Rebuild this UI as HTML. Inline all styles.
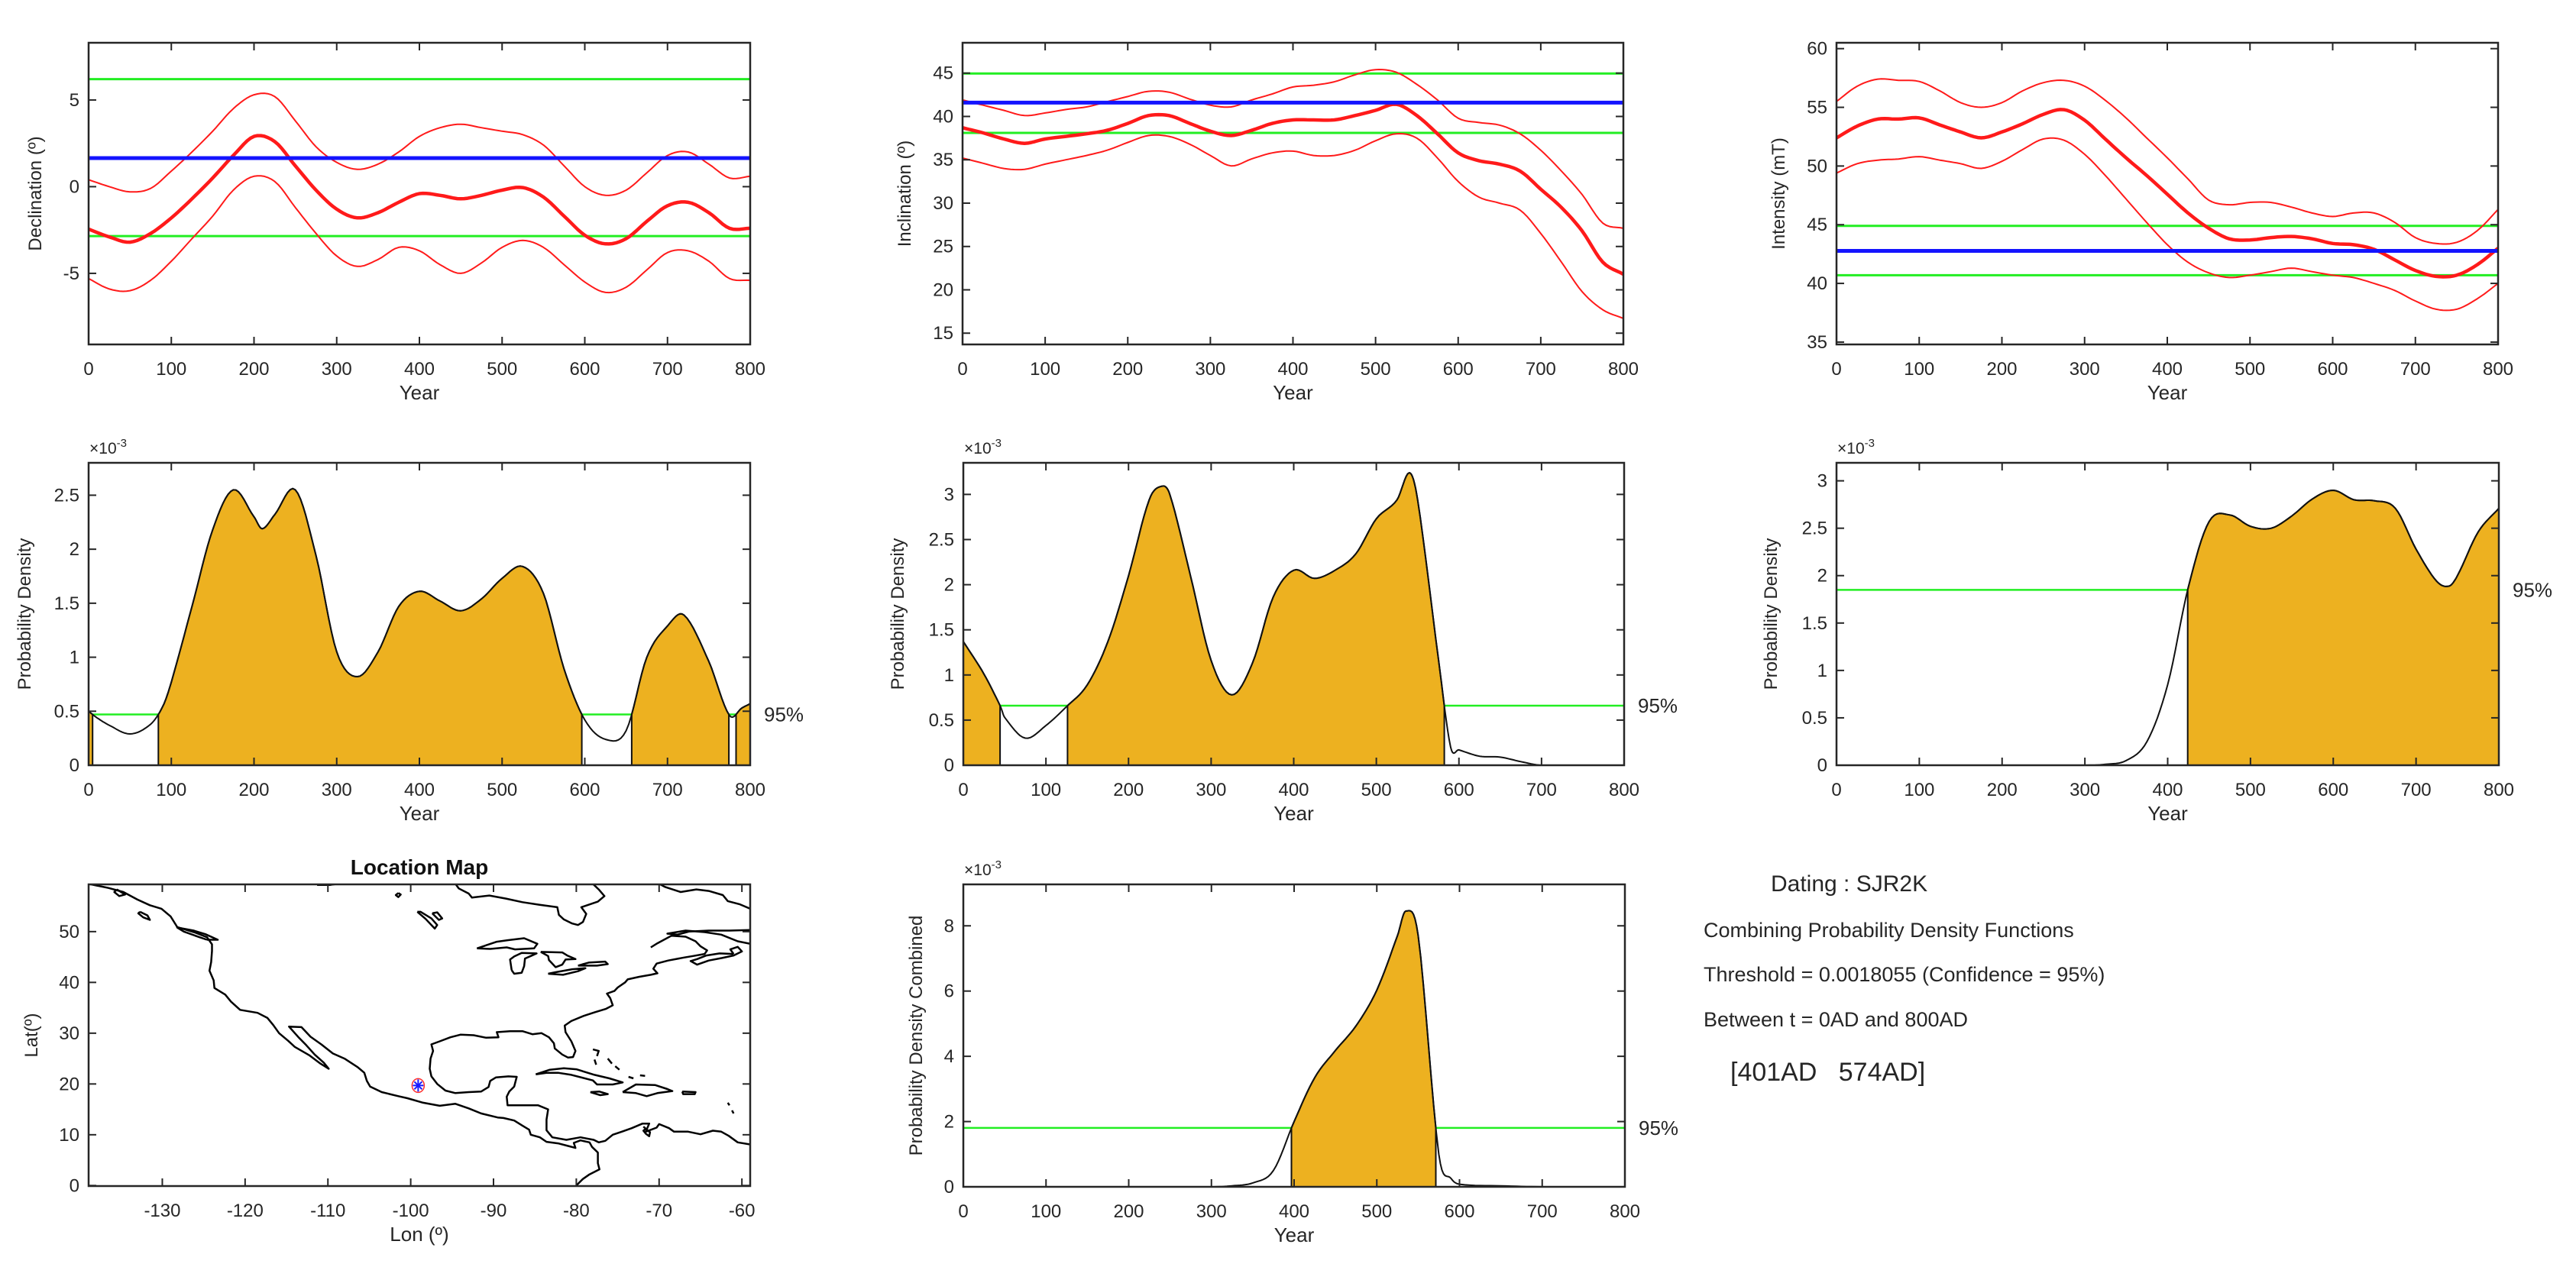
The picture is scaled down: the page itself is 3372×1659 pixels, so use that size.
<!DOCTYPE html>
<html><head><meta charset="utf-8"><style>
html,body{margin:0;padding:0;background:#fff;}
svg{display:block;font-family:"Liberation Sans",Arial,sans-serif;}
</style></head><body>
<svg id="fig" width="3372" height="1659" viewBox="0 0 3372 1659" xmlns="http://www.w3.org/2000/svg">
<rect width="3372" height="1659" fill="#fff"/>
<g id="root"></g>
<text x="2318" y="1167" font-size="30" fill="#262626">Dating : SJR2K</text>
<text x="2230" y="1227" font-size="27" fill="#262626">Combining Probability Density Functions</text>
<text x="2230" y="1285" font-size="27" fill="#262626">Threshold = 0.0018055 (Confidence = 95%)</text>
<text x="2230" y="1344" font-size="27" fill="#262626">Between t = 0AD and 800AD</text>
<text x="2265" y="1415" font-size="34" fill="#262626" xml:space="preserve">[401AD   574AD]</text>
</svg>
<script>
// ---------- data ----------
const years = [0,25,50,75,100,125,150,175,200,225,250,275,300,325,350,375,400,425,450,475,500,525,550,575,600,625,650,675,700,725,750,775,800];
const decMean = [-2.45,-2.9,-3.2,-2.7,-1.8,-0.7,0.5,1.8,2.9,2.6,1.2,-0.2,-1.3,-1.8,-1.5,-0.9,-0.4,-0.5,-0.7,-0.5,-0.2,-0.05,-0.6,-1.7,-2.8,-3.3,-3.0,-2.0,-1.1,-0.9,-1.5,-2.4,-2.4];
const decUpper = [0.4,0.0,-0.3,-0.1,0.9,2.0,3.2,4.5,5.3,5.2,3.8,2.3,1.4,1.0,1.3,2.0,2.9,3.4,3.6,3.4,3.2,3.0,2.4,1.2,0.0,-0.5,-0.2,0.8,1.8,2.0,1.3,0.5,0.6];
const decLower = [-5.3,-5.9,-6.0,-5.4,-4.3,-3.0,-1.7,-0.2,0.6,0.3,-1.2,-2.7,-4.0,-4.6,-4.2,-3.5,-3.7,-4.5,-5.0,-4.4,-3.5,-3.1,-3.5,-4.5,-5.5,-6.1,-5.8,-4.8,-3.8,-3.7,-4.3,-5.3,-5.4];
const decRef = [1.65]; const decBand = [6.2,-2.85];
const incMean = [38.7,38.1,37.4,36.9,37.4,37.7,38.0,38.4,39.2,40.1,40.1,39.2,38.3,37.8,38.4,39.2,39.6,39.6,39.6,40.1,40.7,41.4,40.1,38.0,35.8,34.9,34.5,33.7,31.6,29.5,26.8,23.2,21.8];
const incUpper = [41.9,41.3,40.7,40.1,40.4,40.8,41.1,41.7,42.3,42.9,42.8,42.0,41.3,41.1,41.9,42.6,43.4,43.6,44.0,44.8,45.4,45.1,43.7,41.9,39.8,39.3,39.0,38.0,36.1,33.7,31.0,27.7,27.1];
const incLower = [35.2,34.6,34.0,33.9,34.5,35.0,35.5,36.1,37.0,37.8,37.7,36.8,35.5,34.3,35.1,35.8,36.0,35.5,35.5,36.1,37.2,38.0,37.5,35.2,32.5,30.7,30.0,29.2,26.5,23.2,19.8,17.7,16.7];
const incRef = [41.6]; const incBand = [44.95,38.1];
const intMean = [52.4,53.4,54.0,54.0,54.1,53.5,52.9,52.4,52.9,53.6,54.4,54.8,53.9,52.3,50.7,49.2,47.6,46.0,44.7,43.8,43.7,43.9,44.0,43.8,43.4,43.3,42.9,42.0,41.1,40.6,40.7,41.6,43.0];
const intUpper = [55.5,56.8,57.4,57.3,57.2,56.4,55.4,55.0,55.4,56.4,57.1,57.3,56.8,55.6,54.1,52.4,50.7,48.9,47.1,46.7,46.9,46.9,46.5,46.0,45.7,46.0,46.0,45.2,43.9,43.4,43.5,44.5,46.3];
const intLower = [49.4,50.2,50.5,50.6,50.8,50.5,50.2,49.8,50.4,51.4,52.3,52.2,51.0,49.2,47.2,45.2,43.3,41.8,40.9,40.5,40.7,41.0,41.3,41.0,40.7,40.5,40.0,39.4,38.5,37.8,37.8,38.7,40.0];
const intRef = [42.77]; const intBand = [44.9,40.7];

const pdfDecX = [0,10,25,50,75,90,100,125,150,175,200,210,225,250,275,300,325,350,375,400,425,450,475,500,525,550,575,600,625,650,675,700,720,750,775,790,800];
const pdfDecY = [0.50,0.44,0.37,0.29,0.38,0.55,0.77,1.47,2.18,2.55,2.30,2.19,2.32,2.55,1.94,1.05,0.82,1.05,1.47,1.61,1.52,1.43,1.54,1.73,1.84,1.59,0.89,0.42,0.24,0.32,1.00,1.29,1.39,0.96,0.46,0.53,0.57];
const pdfDecThr = [0.47];
const pdfIncX = [0,25,45,50,75,100,125,150,175,200,225,240,250,275,300,325,350,375,400,425,450,475,500,525,540,550,575,590,600,625,650,675,700,800];
const pdfIncY = [1.37,1.01,0.65,0.53,0.30,0.44,0.65,0.89,1.37,2.10,2.94,3.09,3.00,2.10,1.16,0.78,1.13,1.86,2.16,2.07,2.16,2.34,2.73,2.94,3.24,2.94,1.19,0.20,0.17,0.10,0.09,0.04,0,0];
const pdfIncThr = [0.66];
const pdfIntX = [0,300,325,350,375,400,425,450,475,500,525,550,575,600,625,650,675,700,725,740,750,775,800];
const pdfIntY = [0,0,0.01,0.05,0.25,0.85,1.88,2.57,2.64,2.52,2.50,2.63,2.81,2.90,2.80,2.79,2.71,2.28,1.94,1.89,2.00,2.46,2.71];
const pdfIntThr = [1.85];
const combX = [0,300,325,350,375,400,425,450,475,500,525,535,550,575,590,600,650,700,800];
const combY = [0,0,0.03,0.12,0.5,2.0,3.35,4.18,4.94,6.03,7.70,8.45,7.70,1.0,0.25,0.08,0.03,0,0];
const combThr = [1.8055];
const xTicks = [0,100,200,300,400,500,600,700,800];
const site = [-99.1,19.7];

// coastlines [lon,lat]
const coasts = [
 [[-138.9,59.4],[-136.5,58.6],[-134.7,57.8],[-133,56.3],[-131.5,55.2],[-130.1,54.5],[-129,53],[-128.2,50.9],[-126,49.8],[-124.6,48.9],[-124,47.5],[-124,46.2],[-124.1,44],[-124.3,42.3],[-123.8,40.4],[-123.7,38.9],[-122.4,37.6],[-121.7,36.2],[-120.6,34.6],[-118.5,34],[-117.3,33],[-116.6,31.6],[-115.9,30.0],[-114.8,28.5],[-114,27.3],[-112.2,25.6],[-110.9,24],[-109.9,23],[-110.5,24.2],[-111.6,25.8],[-112.6,27.6],[-113.5,29.1],[-114.7,31.3],[-113.2,31.2],[-112.1,29.3],[-110.8,27.8],[-109.4,26],[-108,25],[-106.4,23.3],[-105.6,22.2],[-105.3,20.6],[-104.9,19.5],[-103.5,18.4],[-101.5,17.6],[-100.4,17.2],[-98.5,16.3],[-96.5,15.7],[-94.6,16.1],[-93,15.2],[-91.5,14.2],[-89.5,13.4],[-88.8,13.3],[-87.5,12.8],[-86.5,11.8],[-85.7,11],[-85.5,10],[-84.4,9.5],[-83.6,8.6],[-82.2,8.3],[-81,7.8],[-80.1,7.4],[-80.3,8.4],[-79.5,8.9],[-78.4,8.5],[-78.1,7.6],[-77.4,6.5],[-77.4,4.4],[-77.2,3.2],[-78.4,2.2],[-79.2,1.3],[-80,0]],
 [[-59,8.1],[-60.5,8.5],[-61.6,9.8],[-62.5,10.6],[-63.5,10.8],[-65,10.1],[-66.5,10.6],[-68.2,10.6],[-68.8,11.3],[-70,12.1],[-70.3,11.4],[-71.6,10.6],[-71.2,12.2],[-72,12.2],[-73.3,11.3],[-74.5,10.6],[-75.6,10.0],[-76.5,8.8],[-77.3,8.5],[-77.9,9.0],[-79.5,9.5],[-81.2,9],[-82.9,9.5],[-83.6,10.9],[-83.6,13],[-83.4,15],[-84.6,15.8],[-86.5,15.8],[-88.3,15.8],[-88.4,17.5],[-88.1,18.5],[-87.5,19.5],[-87.2,21.4],[-88.2,21.5],[-89.7,21.3],[-90.4,20.6],[-90.6,19.4],[-91.5,18.5],[-93,18.4],[-94.6,18.2],[-95.8,18.7],[-96.8,20],[-97.5,21.5],[-97.7,23],[-97.6,25],[-97.3,26.5],[-97.5,27.8],[-96.5,28.4],[-95.2,29.2],[-94,29.7],[-92.4,29.6],[-90.9,29.1],[-89.4,29.2],[-89.6,30.2],[-88,30.4],[-86.5,30.4],[-85.3,29.8],[-84.2,30.0],[-83.3,29.2],[-82.7,28],[-82.6,27],[-81.7,25.8],[-81,25.2],[-80.4,25.3],[-80.1,26.5],[-80.6,28.4],[-81.3,30.2],[-81.4,31.5],[-80.6,32.4],[-79.1,33.4],[-77.8,34.1],[-76.4,34.8],[-75.6,35.5],[-75.9,36.9],[-76.3,37.8],[-75.4,38.3],[-75.0,39.0],[-74.1,40.0],[-73.8,40.6],[-72.4,41.1],[-71,41.5],[-70.2,41.8],[-70.7,42.7],[-70.3,43.7],[-68.9,44.3],[-67.0,44.9],[-65.9,45.2],[-64.5,45.6],[-64.2,46.3],[-65,47.1],[-65.6,48.1],[-66.8,49],[-68.5,49.2],[-70.2,47.7],[-71,46.9]],
 [[-59,47.6],[-60.5,48.1],[-62.5,49.4],[-64.5,49.9],[-66.8,50.2],[-69,49.6],[-67.8,49.4],[-66.4,50],[-64,50.2],[-61.5,50.2],[-59,50.3]],
 [[-61,45.6],[-62.7,45.7],[-64.3,45.3],[-65.4,44.6],[-66.2,44.2],[-65.4,43.5],[-64,44.3],[-62.4,44.8],[-61,45.3],[-60,46.1],[-60.5,47],[-61.4,46.5],[-61,45.6]],
 [[-94.6,59.4],[-94.2,58.5],[-93,57.5],[-92.6,56.7],[-90.5,57.1],[-88.5,56.5],[-86.5,55.8],[-84.5,55.3],[-82.3,54.8],[-82.1,53.3],[-81.5,52.4],[-80.5,51.6],[-79.8,51.3],[-79.2,51.9],[-78.8,53.5],[-79.4,54.8],[-77.4,55.9],[-76.6,57],[-77.3,58.3],[-78,59.4]],
 [[-70,59.4],[-69.3,58.8],[-67.4,57.8],[-65.5,58.3],[-64,58],[-62.3,57.2],[-61.7,56],[-60.3,55.4],[-59,54.5]],
 [[-92,46.7],[-90.4,46.6],[-88.4,46.9],[-87.4,46.5],[-85.1,46.7],[-84.7,47.6],[-86.3,48.7],[-88.3,48.3],[-89.6,48],[-92,46.7]],
 [[-87.8,42.4],[-87.5,41.7],[-86.6,41.9],[-86.3,43.2],[-86.2,44.7],[-85.5,45.2],[-84.8,45.7],[-86.6,45.8],[-87.5,45.1],[-88,44.5],[-87.8,42.4]],
 [[-84.3,46],[-83.4,45.2],[-83.3,44.4],[-82.5,43],[-81.7,43.5],[-81.3,44.5],[-80.1,44.6],[-81.1,45.3],[-81.7,45.9],[-84.3,46]],
 [[-83.4,41.7],[-81.6,41.5],[-79.8,42.2],[-78.9,42.8],[-80.5,42.6],[-82.5,42],[-83.4,41.7]],
 [[-79.8,43.3],[-77.5,43.3],[-76.2,43.6],[-76.5,44.1],[-78.5,43.9],[-79.8,43.3]],
 [[-99.2,53.9],[-98.2,52.5],[-97.1,50.6],[-96.8,51.3],[-97.5,52.6],[-98.8,53.9],[-99.2,53.9]],
 [[-97.4,53.6],[-96.6,52.3],[-96.2,52.6],[-96.8,53.8],[-97.4,53.6]],
 [[-101.5,57.6],[-101.8,57.2],[-101.5,56.8],[-101.2,57.3],[-101.5,57.6]],
 [[-111.3,59.2],[-109.7,59.2],[-108.8,59.4]],
 [[-124.6,48.4],[-123.3,48.4],[-124.8,49.5],[-126.2,50.2],[-128.2,50.8],[-127.4,50],[-125.5,48.9],[-124.6,48.4]],
 [[-132.7,53.9],[-131.8,53.2],[-131.5,52.3],[-132.3,52.8],[-132.9,53.6],[-132.7,53.9]],
 [[-135.5,58.3],[-134.5,57.3],[-135.2,57],[-135.8,57.8],[-135.5,58.3]],
 [[-84.9,21.9],[-83.2,22.8],[-81.5,23.1],[-80,22.9],[-77.8,21.8],[-76,21.1],[-74.4,20.3],[-75.6,19.9],[-77.5,19.9],[-78,20.7],[-80.6,21.8],[-82.2,22.2],[-83.6,22.2],[-84.9,21.9]],
 [[-74.4,18.4],[-72.8,19.9],[-70.5,19.8],[-69,19],[-68.4,18.6],[-70.2,18.2],[-71.5,17.6],[-72.8,18.2],[-74.4,18.4]],
 [[-78.3,18.4],[-77.2,18.5],[-76.2,18],[-77.1,17.8],[-78.3,18.4]],
 [[-67.2,18.5],[-65.6,18.4],[-65.7,18],[-67.1,18],[-67.2,18.5]],
 [[-78,26.8],[-77.3,26.5],[-77.5,25.5]],[[-77.8,24.8],[-77.6,23.8]],[[-76.2,25],[-75.7,24]],[[-75.3,23.5],[-74.8,22.8]],[[-73.7,21.4],[-73.1,21.1]],[[-72.3,21.7],[-71.7,21.6]],
 [[-61.7,16.3],[-61.5,15.8]],[[-61.2,14.8],[-61,14.2]],
 [[-71.9,11.6],[-71.6,11.2],[-71.9,10.8],[-71.6,10.2],[-71.2,9.7],[-71.1,10.5],[-71.5,11.0]]
];

// ---------- helpers ----------
const NS='http://www.w3.org/2000/svg';
const root=document.getElementById('root');
function el(tag,attrs,parent,txt){const e=document.createElementNS(NS,tag);for(const k in attrs)e.setAttribute(k,attrs[k]);if(txt!==undefined)e.textContent=txt;(parent||root).appendChild(e);return e;}
const TXT='#262626';
// Catmull-Rom densify for smooth rendering (drawing only)
function smooth(xs,ys,n,clamp0){
  const ox=[],oy=[];
  for(let i=0;i<xs.length-1;i++){
    const i0=Math.max(0,i-1),i3=Math.min(xs.length-1,i+2);
    const x1=xs[i],x2=xs[i+1],y0=ys[i0],y1=ys[i],y2=ys[i+1],y3=ys[i3];
    const m1=(y2-y0)/((xs[Math.min(xs.length-1,i+1)]-xs[i0])||1)*(x2-x1);
    const m2=(y3-y1)/((xs[i3]-xs[i])||1)*(x2-x1);
    for(let k=0;k<n;k++){const t=k/n,t2=t*t,t3=t2*t;
      let y=(2*t3-3*t2+1)*y1+(t3-2*t2+t)*m1+(-2*t3+3*t2)*y2+(t3-t2)*m2;
      if(clamp0&&y<0)y=0;
      ox.push(x1+t*(x2-x1));oy.push(y);}
  }
  ox.push(xs[xs.length-1]);oy.push(ys[ys.length-1]);
  return [ox,oy];
}
function makeAxes(name,x0,y0,x1,y1,xmin,xmax,ymin,ymax){
  const g=el('g',{});
  
  
  const sx=v=>x0+(v-xmin)/(xmax-xmin)*(x1-x0);
  const sy=v=>y1-(v-ymin)/(ymax-ymin)*(y1-y0);
  const cid='clip-'+name;
  const cp=el('clipPath',{id:cid},g);el('rect',{x:x0,y:y0,width:x1-x0,height:y1-y0},cp);
  const plot=el('g',{'clip-path':'url(#'+cid+')'},g);
  return {g,plot,sx,sy,x0,y0,x1,y1};
}
function frame(ax,xt,xl,yt,yl){
  const g=ax.g;
  for(let i=0;i<xt.length;i++){const x=ax.sx(xt[i]);
    const t=el('line',{x1:x,x2:x,y1:ax.y1,y2:ax.y1-10,stroke:TXT,'stroke-width':2},g);
    
    el('line',{x1:x,x2:x,y1:ax.y0,y2:ax.y0+10,stroke:TXT,'stroke-width':2},g);
    const lb=el('text',{x:x,y:ax.y1+40,'font-size':24,fill:TXT,'text-anchor':'middle'},g,xl[i]);
    }
  for(let i=0;i<yt.length;i++){const y=ax.sy(yt[i]);
    const t=el('line',{x1:ax.x0,x2:ax.x0+10,y1:y,y2:y,stroke:TXT,'stroke-width':2},g);
    
    el('line',{x1:ax.x1,x2:ax.x1-10,y1:y,y2:y,stroke:TXT,'stroke-width':2},g);
    const lb=el('text',{x:ax.x0-12,y:y+8,'font-size':24,fill:TXT,'text-anchor':'end'},g,yl[i]);
    }
  const r=el('rect',{x:ax.x0,y:ax.y0,width:ax.x1-ax.x0,height:ax.y1-ax.y0,fill:'none',stroke:TXT,'stroke-width':2.5},g);
  
}
function labels(ax,xlab,ylab,ylx){
  const a=el('text',{x:(ax.x0+ax.x1)/2,y:ax.y1+72,'font-size':26,fill:TXT,'text-anchor':'middle'},ax.g,xlab);
  
  const cy=(ax.y0+ax.y1)/2;
  const b=el('text',{x:ylx,y:cy,'font-size':24,fill:TXT,'text-anchor':'middle',transform:'rotate(-90 '+ylx+' '+cy+')'},ax.g,ylab);
  
}
function poly(ax,xs,ys,attrs,name){
  const p=xs.map((x,i)=>ax.sx(x).toFixed(1)+','+ax.sy(ys[i]).toFixed(1)).join(' ');
  const e=el('polyline',Object.assign({points:p,fill:'none','stroke-linejoin':'round'},attrs),ax.plot);
  return e;
}
function hline(ax,v,color,w,name){
  const e=el('line',{x1:ax.x0,x2:ax.x1,y1:ax.sy(v),y2:ax.sy(v),stroke:color,'stroke-width':w},ax.plot);
  
}
const tickLab=a=>a.map(v=>String(v));

function geoPlot(name,x0,y0,x1,y1,ymin,ymax,yt,mean,up,lo,ref,band,ylab,ylx){
  const ax=makeAxes(name,x0,y0,x1,y1,0,800,ymin,ymax);
  hline(ax,band[0],'#22ee22',3,'confidence-upper-line');
  hline(ax,band[1],'#22ee22',3,'confidence-lower-line');
  let s=smooth(years,up,6,false);poly(ax,s[0],s[1],{stroke:'#ff1a1a','stroke-width':2},'upper-error-curve');
  s=smooth(years,lo,6,false);poly(ax,s[0],s[1],{stroke:'#ff1a1a','stroke-width':2},'lower-error-curve');
  s=smooth(years,mean,6,false);poly(ax,s[0],s[1],{stroke:'#ff1a1a','stroke-width':4.5},'mean-curve');
  hline(ax,ref[0],'#1414ff',5,'reference-line');
  frame(ax,xTicks,tickLab(xTicks),yt,tickLab(yt));
  labels(ax,'Year',ylab,ylx);
}
function pdfPlot(name,x0,y0,x1,y1,ymax,yt,xs0,ys0,thr,ylab,ylx){
  const ax=makeAxes(name,x0,y0,x1,y1,0,800,0,ymax);
  hline(ax,thr,'#22ee22',2.5,'threshold-line');
  const sm=smooth(xs0,ys0,8,true);const xs=sm[0],ys=sm[1];
  let seg=null;const segs=[];
  for(let i=0;i<xs.length;i++){
    const above=ys[i]>=thr;
    if(i>0){const pa=ys[i-1]>=thr;
      if(pa!==above){const t=(thr-ys[i-1])/(ys[i]-ys[i-1]);const cx=xs[i-1]+t*(xs[i]-xs[i-1]);
        if(above){seg=[[cx,thr]];}else{seg.push([cx,thr]);segs.push(seg);seg=null;}}}
    if(above){if(!seg)seg=[];seg.push([xs[i],ys[i]]);}
  }
  if(seg)segs.push(seg);
  segs.forEach(s=>{
    const pts=[[s[0][0],0]].concat(s).concat([[s[s.length-1][0],0]]);
    const p=pts.map(q=>ax.sx(q[0]).toFixed(1)+','+ax.sy(q[1]).toFixed(1)).join(' ');
    const e=el('polygon',{points:p,fill:'#EDB120',stroke:'#111','stroke-width':2},ax.plot);
    
  });
  poly(ax,xs,ys,{stroke:'#111','stroke-width':2},'pdf-curve');
  frame(ax,xTicks,tickLab(xTicks),yt,tickLab(yt));
  labels(ax,'Year',ylab,ylx);
  const m=el('text',{x:x0+1,y:y0-12,'font-size':21,fill:TXT},ax.g);
  
  m.textContent='×10';
  el('tspan',{dy:-9,'font-size':15},m,'-3');
  const p=el('text',{x:x1+18,y:ax.sy(thr)+9,'font-size':26,fill:TXT},ax.g,'95%');
  
}

// ---------- row 1 ----------
geoPlot('declination-chart',116,56,982,451,-9.1,8.3,[-5,0,5],decMean,decUpper,decLower,decRef,decBand,'Declination (º)',54);
geoPlot('inclination-chart',1260,56,2125,451,13.7,48.5,[15,20,25,30,35,40,45],incMean,incUpper,incLower,incRef,incBand,'Inclination (º)',1192);
geoPlot('intensity-chart',2404,56,3270,451,34.8,60.5,[35,40,45,50,55,60],intMean,intUpper,intLower,intRef,intBand,'Intensity (mT)',2336);
// ---------- row 2 ----------
pdfPlot('declination-pdf-chart',116,606,982,1002,2.8,[0,0.5,1,1.5,2,2.5],pdfDecX,pdfDecY,pdfDecThr[0],'Probability Density',40);
pdfPlot('inclination-pdf-chart',1261,606,2126,1002,3.35,[0,0.5,1,1.5,2,2.5,3],pdfIncX,pdfIncY,pdfIncThr[0],'Probability Density',1183);
pdfPlot('intensity-pdf-chart',2404,606,3271,1002,3.19,[0,0.5,1,1.5,2,2.5,3],pdfIntX,pdfIntY,pdfIntThr[0],'Probability Density',2326);
// ---------- row 3 ----------
pdfPlot('combined-pdf-chart',1261,1158,2127,1554,9.27,[0,2,4,6,8],combX,combY,combThr[0],'Probability Density Combined',1207);

// map
(function(){
  const lonT=[-130,-120,-110,-100,-90,-80,-70,-60];const latT=[0,10,20,30,40,50];
  const ax=makeAxes('location-map',116,1158,982,1553,-138.9,-59.0,-0.1,59.3);
  coasts.forEach(c=>{poly(ax,c.map(q=>q[0]),c.map(q=>q[1]),{stroke:'#000','stroke-width':2.5},'coastline');});
  const cx=ax.sx(site[0]),cy=ax.sy(site[1]);
  const ring=el('ellipse',{cx:cx,cy:cy,rx:8,ry:9,fill:'none',stroke:'#ff3030','stroke-width':1.5},ax.plot);
  
  const st=el('g',{stroke:'#1a1aff','stroke-width':2},ax.plot);
  
  el('line',{x1:cx-7,x2:cx+7,y1:cy,y2:cy},st);el('line',{x1:cx,x2:cx,y1:cy-8,y2:cy+8},st);
  el('line',{x1:cx-5,x2:cx+5,y1:cy-5,y2:cy+5},st);el('line',{x1:cx-5,x2:cx+5,y1:cy+5,y2:cy-5},st);
  frame(ax,lonT,tickLab(lonT),latT,tickLab(latT));
  labels(ax,'Lon (º)','Lat(º)',49);
  const t=el('text',{x:549,y:1145,'font-size':28,'font-weight':'bold',fill:'#111','text-anchor':'middle'},ax.g,'Location Map');
  
})();
</script>
</body></html>
